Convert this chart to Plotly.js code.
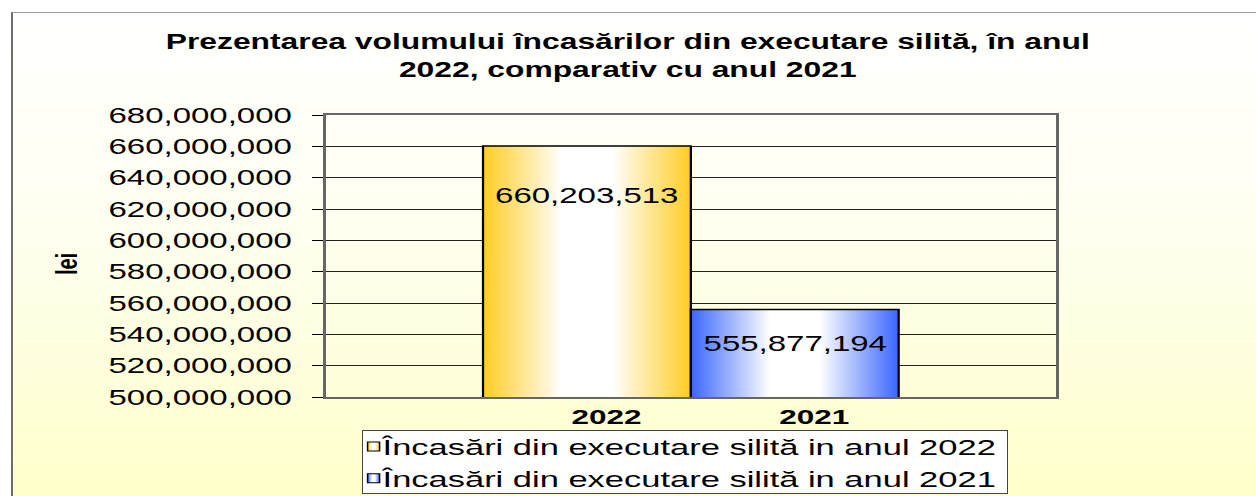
<!DOCTYPE html>
<html>
<head>
<meta charset="utf-8">
<script src="https://cdn.plot.ly/plotly-3.0.1.min.js"></script>
<style>
  html, body { margin:0; padding:0; background:#ffffff; width:1256px; height:496px; overflow:hidden; }
  #frame { position:absolute; left:11px; top:12px; width:1260px; height:500px;
           border-left:2px solid #6e6e6e; border-top:1px solid #9a9a9a;
           background:linear-gradient(to bottom, #ffffff 0%, #ffffef 45%, #ffffc8 100%); }
  #chart { position:absolute; left:0; top:0; width:837px; height:496px; transform-origin:0 0; }
</style>
</head>
<body>
<div id="frame"></div>
<div id="chart"></div>
<script>
// ---- data ----
const categories = ['2022', '2021'];
const values = [660203513, 555877194];
const seriesNames = [
  'Încasări din executare silită in anul 2022',
  'Încasări din executare silită in anul 2021'
];
const yAxisTitle = 'lei';
const yTickStart = 500000000;
const yTickEnd = 680000000;
const yTickStep = 20000000;

// ---- styles ----
const baseColors = ['#ffcc22', '#3a66ff'];
const gradIds = ['gGold', 'gBlue'];
const labelShift = [-49, -34];
const FONT = 'Liberation Sans, Arial, sans-serif';

const traces = categories.map((c, i) => ({
  type: 'bar',
  x: [c],
  y: [values[i]],
  name: seriesNames[i],
  marker: { color: baseColors[i], line: { color: '#000000', width: 1.5 } },
  hoverinfo: 'skip'
}));

// value labels (category axis positions are category indices)
const annotations = categories.map((c, i) => ({
  x: i, y: values[i], xref: 'x', yref: 'y',
  text: values[i].toLocaleString('en-US'),
  showarrow: false, yanchor: 'middle', yshift: labelShift[i],
  font: { family: FONT, size: 22, color: '#000' }
}));
// y-axis title
annotations.push({
  xref: 'paper', yref: 'paper', x: -0.354, y: 0.47,
  xanchor: 'center', yanchor: 'middle', textangle: -90,
  text: '<b>' + yAxisTitle + '</b>', showarrow: false,
  font: { family: FONT, size: 20, color: '#000' }
});

const layout = {
  width: 837, height: 496,
  paper_bgcolor: 'rgba(0,0,0,0)', plot_bgcolor: 'rgba(0,0,0,0)',
  margin: { l: 217, r: 133, t: 115, b: 99, autoexpand: false },
  font: { family: FONT, color: '#000' },
  title: {
    text: '<b>Prezentarea volumului încasărilor din executare silită, în anul<br>2022, comparativ cu anul 2021</b>',
    x: 0.5, xanchor: 'center', xref: 'container',
    y: 0.901, yanchor: 'top', yref: 'container',
    font: { family: FONT, size: 21.2, color: '#000' }
  },
  barmode: 'overlay',
  bargap: 0,
  xaxis: {
    type: 'category',
    automargin: false,
    range: [-1.258, 2.257],
    showgrid: false, zeroline: false,
    showline: true, linecolor: '#666', linewidth: 2, mirror: true,
    ticks: '', ticklabelshift: 13, ticklabelstandoff: 0,
    tickfont: { family: FONT, size: 21, color: '#000', weight: 'bold' },
    fixedrange: true
  },
  yaxis: {
    automargin: false,
    range: [yTickStart, yTickEnd],
    tick0: yTickStart, dtick: yTickStep,
    tickformat: ',d',
    showgrid: true, gridcolor: '#222', gridwidth: 1,
    zeroline: false,
    showline: true, linecolor: '#666', linewidth: 2, mirror: true,
    ticks: 'outside', ticklen: 7, tickcolor: '#000', tickwidth: 1,
    ticklabelstandoff: 9,
    tickfont: { family: FONT, size: 22, color: '#000' },
    fixedrange: true
  },
  showlegend: true,
  legend: {
    xref: 'container', yref: 'container',
    x: 0.288, y: 1 - 430 / 496, xanchor: 'left', yanchor: 'top',
    bgcolor: '#ffffff', bordercolor: '#444', borderwidth: 1,
    font: { family: FONT, size: 23, color: '#000' },
    itemwidth: 30
  },
  annotations: annotations,
  hovermode: false
};

Plotly.newPlot('chart', traces, layout, { displayModeBar: false, staticPlot: true }).then(gd => {
  const svg = gd.querySelector('svg.main-svg');
  const ns = 'http://www.w3.org/2000/svg';
  let defs = svg.querySelector('defs');
  if (!defs) { defs = document.createElementNS(ns, 'defs'); svg.insertBefore(defs, svg.firstChild); }
  const stopsFor = (col) => [[0, col], [0.38, '#ffffff'], [0.62, '#ffffff'], [1, col]];
  gradIds.forEach((id, i) => {
    const lg = document.createElementNS(ns, 'linearGradient');
    lg.setAttribute('id', id);
    lg.setAttribute('x1', '0'); lg.setAttribute('x2', '1');
    lg.setAttribute('y1', '0'); lg.setAttribute('y2', '0');
    stopsFor(baseColors[i]).forEach(([o, c]) => {
      const s = document.createElementNS(ns, 'stop');
      s.setAttribute('offset', o); s.setAttribute('stop-color', c);
      lg.appendChild(s);
    });
    defs.appendChild(lg);
  });
  gd.querySelectorAll('.barlayer .trace').forEach((t, i) => {
    t.querySelectorAll('path').forEach(p => { p.style.fill = 'url(#' + gradIds[i] + ')'; });
  });
  // compact legend entries (symbol and text closer to the box edges)
  const textShift = 27, symShift = 13, rowLift = 6, rowTighten = 1;
  gd.querySelectorAll('.legend .traces').forEach((t, i) => {
    const tr = t.getAttribute('transform') || '';
    const m = tr.match(/translate\(\s*([-\d.e]+)[ ,]+([-\d.e]+)\s*\)/);
    if (m) t.setAttribute('transform', 'translate(' + m[1] + ',' + (parseFloat(m[2]) - rowLift - i * rowTighten) + ')');
    const pts = t.querySelector('.legendpoints');
    if (pts) pts.setAttribute('transform', 'translate(' + (-symShift) + ',0)');
    t.querySelectorAll('.legendpoints path').forEach(p => {
      p.setAttribute('d', 'M-4,-4.5h8v9h-8z');
      p.style.fill = 'url(#' + gradIds[i] + ')'; p.style.stroke = '#000'; p.style.strokeWidth = '1px';
    });
    const txt = t.querySelector('text.legendtext');
    if (txt) txt.setAttribute('x', parseFloat(txt.getAttribute('x')) - textShift);
  });
  const bg = gd.querySelector('.legend rect.bg');
  if (bg) {
    bg.setAttribute('width', parseFloat(bg.getAttribute('width')) - textShift);
    bg.setAttribute('height', 63);
  }
  document.getElementById('chart').style.transform = 'scaleX(1.5)';
});
</script>
</body>
</html>
